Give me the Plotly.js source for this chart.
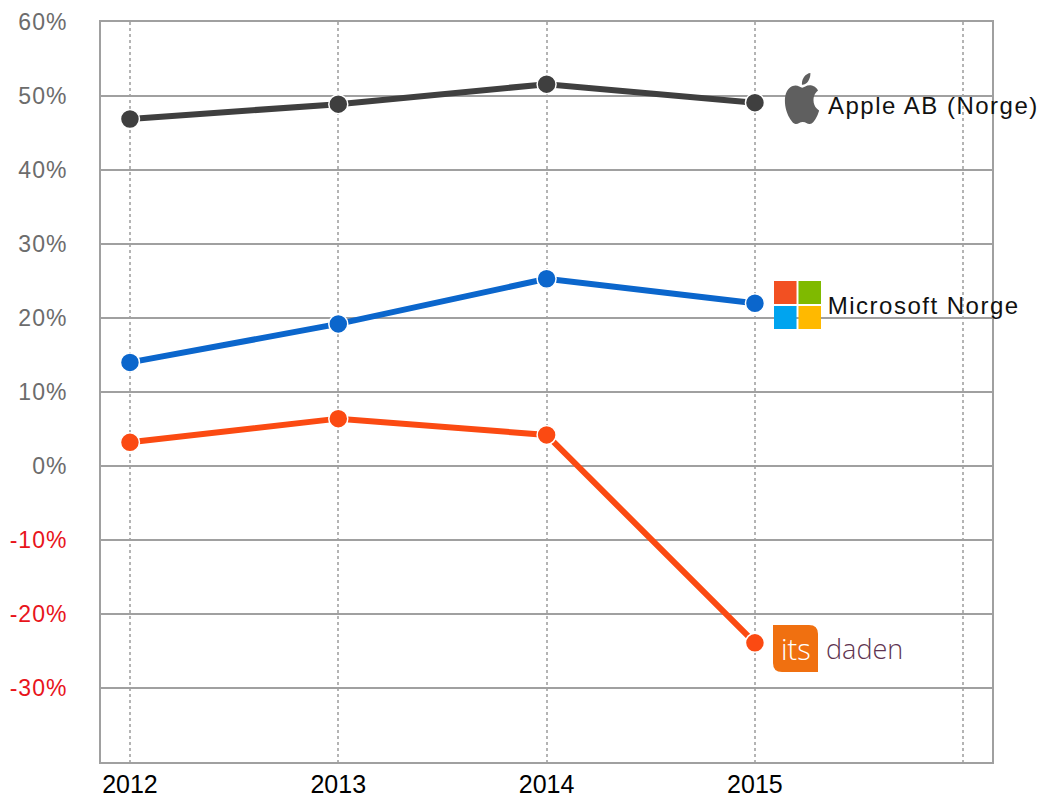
<!DOCTYPE html>
<html>
<head>
<meta charset="utf-8">
<script src="https://cdn.plot.ly/plotly-3.0.1.min.js"></script>
<style>
html,body{margin:0;padding:0;background:#fff;}
#chart .ytick text{letter-spacing:1px;}
#chart .annotation-text.lbl{letter-spacing:1.5px;}
</style>
</head>
<body>
<div id="chart" style="width:1045px;height:799px;"></div>
<script>
// ---- data ----
const years = [2012, 2013, 2014, 2015];
const apple = [46.9, 48.9, 51.6, 49.1];
const microsoft = [14.0, 19.2, 25.3, 22.0];
const itsdaden = [3.2, 6.4, 4.2, -23.9];
const seriesNames = ['Apple AB (Norge)', 'Microsoft Norge', 'itsdaden'];
const yTickVals = [-30, -20, -10, 0, 10, 20, 30, 40, 50, 60];
const xTickVals = [2012, 2013, 2014, 2015, 2016];
const xTickText = ['2012', '2013', '2014', '2015', ''];

// ---- layout helpers ----
const W = 1045, H = 799;
const M = {l: 101, r: 53, t: 22, b: 37};
const PW = W - M.l - M.r, PH = H - M.t - M.b;
const px = x => (x - M.l) / PW;
const py = y => (H - M.b - y) / PH;
const svgURI = s => 'data:image/svg+xml;charset=utf-8,' + encodeURIComponent(s);

const yTickText = yTickVals.map(v => v < 0
  ? '<span style="color:#e8141b">' + v + '%</span>'
  : v + '%');

const appleSvg = '<svg xmlns="http://www.w3.org/2000/svg" viewBox="0 0 24 24"><path fill="#5f5f5f" d="M12.152 6.896c-.948 0-2.415-1.078-3.960-1.040-2.040.027-3.910 1.183-4.961 3.014-2.117 3.675-.546 9.103 1.519 12.090 1.013 1.454 2.208 3.090 3.792 3.039 1.520-.065 2.090-.987 3.935-.987 1.831 0 2.350.987 3.960.948 1.637-.026 2.676-1.480 3.676-2.948 1.156-1.688 1.636-3.325 1.662-3.415-.039-.013-3.182-1.221-3.220-4.857-.026-3.040 2.480-4.494 2.597-4.559-1.429-2.090-3.623-2.324-4.390-2.376-2-.156-3.675 1.090-4.610 1.090zM15.530 3.830c.843-1.012 1.400-2.427 1.245-3.830-1.207.052-2.662.805-3.532 1.818-.780.896-1.454 2.338-1.273 3.714 1.338.104 2.715-.688 3.559-1.701"/></svg>';
const msSvg = '<svg xmlns="http://www.w3.org/2000/svg" viewBox="0 0 48 48"><rect x="0" y="0" width="23" height="23" fill="#f25022"/><rect x="25" y="0" width="23" height="23" fill="#7fba00"/><rect x="0" y="25" width="23" height="23" fill="#00a4ef"/><rect x="25" y="25" width="23" height="23" fill="#ffb900"/></svg>';
const itsSvg = '<svg xmlns="http://www.w3.org/2000/svg" viewBox="0 0 45 47"><path fill="#f07010" d="M0 0 H36 Q45 0 45 9 V47 H9 Q0 47 0 38 Z"/></svg>';

function img(src, x0, y0, x1, y1) {
  return {source: src, xref: 'paper', yref: 'paper', x: px(x0), y: py(y0),
    sizex: px(x1) - px(x0), sizey: py(y0) - py(y1), xanchor: 'left', yanchor: 'top',
    sizing: 'stretch', layer: 'above'};
}

const lineW = 6, mSize = 19;
function trace(y, color, name) {
  return {x: years, y: y, name: name, type: 'scatter', mode: 'lines+markers',
    line: {color: color, width: lineW},
    marker: {color: color, size: mSize, line: {color: '#fff', width: 1.5}},
    cliponaxis: false, hoverinfo: 'skip'};
}

const data = [
  trace(apple, '#3f3f3f', seriesNames[0]),
  trace(microsoft, '#0b66cc', seriesNames[1]),
  trace(itsdaden, '#fb4a12', seriesNames[2])
];

const labelFont = {family: 'Liberation Sans, Arial, sans-serif', size: 24, color: '#111'};
const layout = {
  width: W, height: H, autosize: false,
  margin: M,
  paper_bgcolor: '#fff', plot_bgcolor: '#fff',
  showlegend: false,
  xaxis: {
    range: [2011.861, 2016.138], tickvals: xTickVals, ticktext: xTickText,
    showgrid: true, gridcolor: '#b4b4b4', gridwidth: 2, griddash: 'dot',
    zeroline: false, showline: true, mirror: true, linecolor: '#a0a0a0', linewidth: 2,
    ticks: '', ticklabelstandoff: -1,
    tickfont: {family: 'Liberation Sans, Arial, sans-serif', size: 25, color: '#000'}
  },
  yaxis: {
    range: [-40, 60], tickvals: yTickVals, ticktext: yTickText,
    showgrid: true, gridcolor: '#a0a0a0', gridwidth: 2,
    zeroline: false, showline: true, mirror: true, linecolor: '#a0a0a0', linewidth: 2,
    ticks: '', ticklabelstandoff: 27,
    tickfont: {family: 'Liberation Sans, Arial, sans-serif', size: 23, color: '#6c6c6c'}
  },
  images: [
    img(svgURI(appleSvg), 781, 73, 823, 124),
    img(svgURI(msSvg), 774, 281, 821, 329),
    img(svgURI(itsSvg), 773, 625, 818, 672)
  ],
  annotations: [
    {x: 2015, y: apple[3], xref: 'x', yref: 'y', text: seriesNames[0], showarrow: false,
      xanchor: 'left', yanchor: 'middle', xshift: 83, yshift: -3, font: labelFont},
    {x: 2015, y: microsoft[3], xref: 'x', yref: 'y', text: seriesNames[1], showarrow: false,
      xanchor: 'left', yanchor: 'middle', xshift: 82, yshift: -2, font: labelFont},
    {xref: 'paper', yref: 'paper', x: px(796), y: py(648), text: 'its', showarrow: false,
      xanchor: 'center', yanchor: 'middle',
      font: {family: 'Open Sans, sans-serif', size: 29, color: '#fff', weight: 300}},
    {xref: 'paper', yref: 'paper', x: px(824), y: py(648), text: 'daden', showarrow: false,
      xanchor: 'left', yanchor: 'middle',
      font: {family: 'Open Sans, sans-serif', size: 27, color: '#5e3350', weight: 300}}
  ]
};

Plotly.newPlot('chart', data, layout, {staticPlot: true, displayModeBar: false}).then(() => {
  document.querySelectorAll('#chart .annotation-text').forEach((t, i) => {
    if (i < 2) t.classList.add('lbl');
  });
});
</script>
</body>
</html>
